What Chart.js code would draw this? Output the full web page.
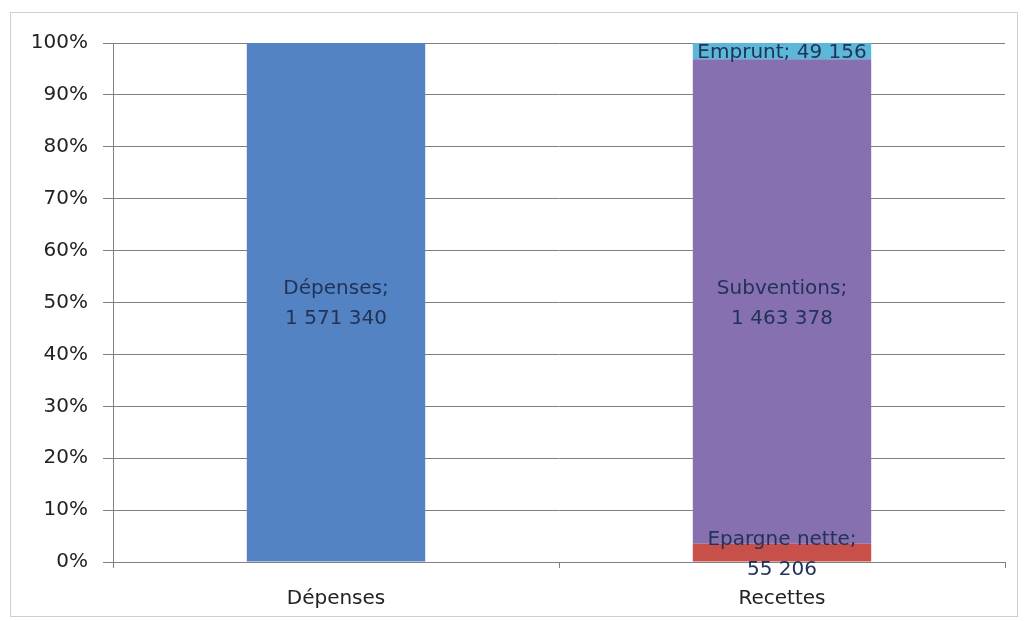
<!DOCTYPE html>
<html>
<head>
<meta charset="utf-8">
<script src="https://cdn.jsdelivr.net/npm/chart.js@4/dist/chart.umd.min.js"></script>
<style>
    body { margin: 0; background: #fff; }
    #wrap { width: 1026px; height: 621px; position: relative; }
</style>
</head>
<body>
<div id="wrap"><canvas id="budget-chart" width="1026" height="621"></canvas></div>
<script>
const categories = ['Dépenses', 'Recettes'];
const depenses = [1571340, 0];
const epargneNette = [0, 55206];
const subventions = [0, 1463378];
const emprunt = [0, 49156];
const yTicks = [0, 10, 20, 30, 40, 50, 60, 70, 80, 90, 100];

const series = [
    { label: 'Dépenses', raw: depenses, color: '#5383c3', text: ['Dépenses;', '1 571 340'] },
    { label: 'Epargne nette', raw: epargneNette, color: '#c8504a', text: ['Epargne nette;', '55 206'] },
    { label: 'Subventions', raw: subventions, color: '#8770b0', text: ['Subventions;', '1 463 378'] },
    { label: 'Emprunt', raw: emprunt, color: '#5cb8d8', text: ['Emprunt; 49 156'] }
];

// 100% stacked: each value as a share of its column total
const totals = categories.map((c, i) => series.reduce((s, d) => s + d.raw[i], 0));
const toPercent = arr => arr.map((v, i) => v / totals[i] * 100);

const FONT = '"DejaVu Sans", sans-serif';

const frame = {
    id: 'frame',
    beforeDraw: (chart) => {
        const ctx = chart.ctx;
        ctx.save();
        ctx.fillStyle = '#fff';
        ctx.fillRect(0, 0, chart.width, chart.height);
        ctx.strokeStyle = '#cfcfcf';
        ctx.lineWidth = 1;
        ctx.strokeRect(10.5, 12.5, 1007, 604);
        ctx.restore();
    }
};

const barLabels = {
    id: 'barLabels',
    afterDatasetsDraw: (chart) => {
        const ctx = chart.ctx;
        ctx.save();
        ctx.font = '20px ' + FONT;
        ctx.fillStyle = '#22335a';
        ctx.textAlign = 'center';
        ctx.textBaseline = 'middle';
        chart.data.datasets.forEach((ds, di) => {
            const meta = chart.getDatasetMeta(di);
            meta.data.forEach((bar, i) => {
                if (!series[di].raw[i]) return;
                const lines = series[di].text;
                const cy = (bar.y + bar.base) / 2 + 2;
                const lh = 30;
                lines.forEach((t, k) => {
                    ctx.fillText(t, bar.x, cy + (k - (lines.length - 1) / 2) * lh);
                });
            });
        });
        ctx.restore();
    }
};

new Chart(document.getElementById('budget-chart'), {
    type: 'bar',
    data: {
        labels: categories,
        datasets: series.map(s => ({
            label: s.label,
            data: toPercent(s.raw),
            backgroundColor: s.color,
            borderWidth: 0,
            barPercentage: 0.4,
            categoryPercentage: 1
        }))
    },
    options: {
        responsive: false,
        animation: false,
        layout: { padding: { top: 43, right: 21, bottom: 0, left: 0 } },
        plugins: {
            legend: { display: false },
            tooltip: { enabled: false }
        },
        scales: {
            x: {
                stacked: true,
                afterFit: (scale) => { scale.height = 59; },
                grid: {
                    drawOnChartArea: false,
                    drawTicks: true,
                    tickLength: 6,
                    color: '#808080'
                },
                border: { color: '#808080' },
                ticks: {
                    color: '#222',
                    font: { family: FONT, size: 20 },
                    padding: 19
                }
            },
            y: {
                stacked: true,
                min: 0,
                max: 100,
                afterFit: (scale) => { scale.width = 113; },
                afterBuildTicks: (scale) => {
                    scale.ticks = yTicks.map(v => ({ value: v }));
                },
                grid: {
                    color: '#808080',
                    tickLength: 10
                },
                border: { color: '#808080' },
                ticks: {
                    color: '#222',
                    font: { family: FONT, size: 20 },
                    padding: 15,
                    callback: (v) => v + '%'
                }
            }
        }
    },
    plugins: [frame, barLabels]
});
</script>
</body>
</html>
